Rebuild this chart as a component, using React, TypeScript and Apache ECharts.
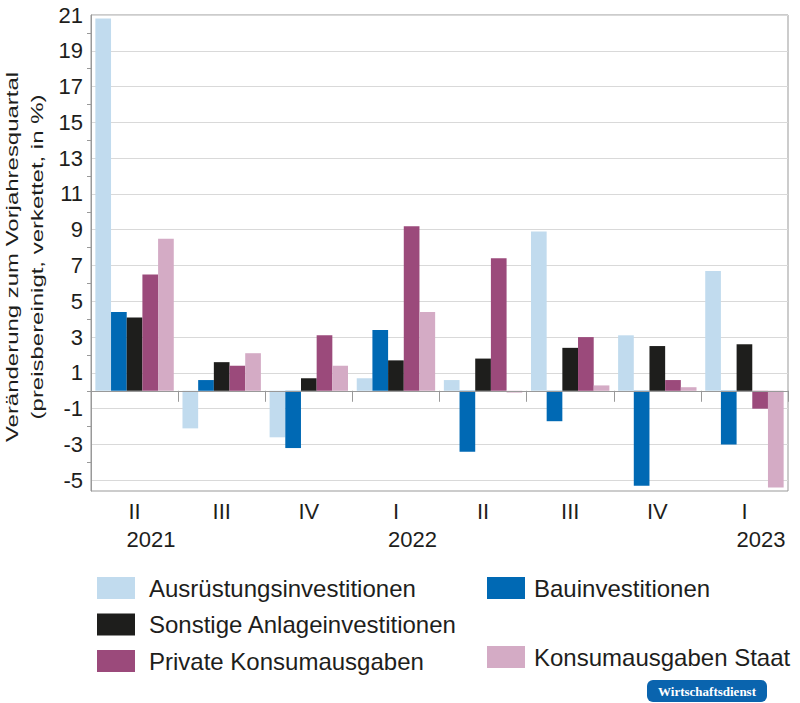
import React, { useEffect, useRef } from "react";
import * as echarts from "echarts";

const categories = ["2021 II", "2021 III", "2021 IV", "2022 I", "2022 II", "2022 III", "2022 IV", "2023 I"];
const quarterLabels = ["II", "III", "IV", "I", "II", "III", "IV", "I"];
const yearLabels = ["2021", "", "", "2022", "", "", "", "2023"];

const seriesNames = [
  "Ausrüstungsinvestitionen",
  "Bauinvestitionen",
  "Sonstige Anlageinvestitionen",
  "Private Konsumausgaben",
  "Konsumausgaben Staat",
];
const seriesColors = ["#c1dbee", "#0069b4", "#1e1e1c", "#9b4a7b", "#d4abc5"];

const ausruestung = [20.8, -2.1, -2.6, 0.7, 0.6, 8.9, 3.1, 6.7];
const bau = [4.4, 0.6, -3.2, 3.4, -3.4, -1.7, -5.3, -3.0];
const sonstige = [4.1, 1.6, 0.7, 1.7, 1.8, 2.4, 2.5, 2.6];
const privat = [6.5, 1.4, 3.1, 9.2, 7.4, 3.0, 0.6, -1.0];
const staat = [8.5, 2.1, 1.4, 4.4, -0.1, 0.3, 0.2, -5.4];

const yTickLabels = [-5, -3, -1, 1, 3, 5, 7, 9, 11, 13, 15, 17, 19, 21];
const yMinorTicks = [-4, -2, 0, 2, 4, 6, 8, 10, 12, 14, 16, 18, 20];

const yTitle = "Veränderung zum Vorjahresquartal\n(preisbereinigt, verkettet, in %)";
const badgeText = "Wirtschaftsdienst";

const FONT = "'Liberation Sans', Arial, Helvetica, sans-serif";
const TEXT = "#1e1e1c";

export default function App() {
  const ref = useRef<HTMLDivElement>(null);

  useEffect(() => {
    if (!ref.current) return;
    const chart = echarts.init(ref.current, null, { renderer: "svg" });
    const values = [ausruestung, bau, sonstige, privat, staat];

    const series: any[] = values.map((data, i) => ({
      name: seriesNames[i],
      type: "bar",
      xAxisIndex: 0,
      yAxisIndex: 0,
      data,
      barGap: "0%",
      barCategoryGap: "10%",
      itemStyle: { color: seriesColors[i] },
      ...(i === values.length - 1
        ? {
            markLine: {
              silent: true,
              symbol: ["none", "none"],
              label: { show: false },
              lineStyle: { color: "#999999", width: 1, type: "solid" },
              data: [{ yAxis: 0 }],
              z: 10,
            },
          }
        : {}),
    }));

    const legendCommon = {
      orient: "vertical",
      itemWidth: 38,
      itemHeight: 22,
      itemGap: 12.5,
      padding: 0,
      icon: "rect",
      selectedMode: false,
      textStyle: { fontSize: 24, color: TEXT, fontFamily: FONT },
    };

    chart.setOption({
      animation: false,
      backgroundColor: "#ffffff",
      textStyle: { fontFamily: FONT },
      grid: {
        left: 91,
        right: 12,
        top: 15,
        bottom: 212,
        show: true,
        borderColor: "#999999",
        borderWidth: 1,
      },
      legend: [
        {
          ...legendCommon,
          left: 97,
          top: 576,
          data: [seriesNames[0], seriesNames[2], seriesNames[3]],
          textStyle: { ...legendCommon.textStyle, padding: [0, 0, 0, 9] },
        },
        {
          ...legendCommon,
          left: 487,
          top: 576,
          data: [seriesNames[1]],
          textStyle: { ...legendCommon.textStyle, padding: [0, 0, 0, 4] },
        },
        {
          ...legendCommon,
          left: 487,
          top: 645,
          data: [seriesNames[4]],
          textStyle: { ...legendCommon.textStyle, padding: [0, 0, 0, 4] },
        },
      ],
      xAxis: [
        {
          type: "category",
          data: categories,
          position: "bottom",
          axisLine: { lineStyle: { color: "#999999", width: 1 } },
          axisTick: { show: true, length: 11, lineStyle: { color: "#999999" } },
          axisLabel: {
            interval: 0,
            margin: 9,
            fontSize: 22,
            color: TEXT,
            fontFamily: FONT,
            formatter: (_v: string, i: number) => quarterLabels[i],
          },
          splitLine: { show: false },
        },
        {
          type: "category",
          data: categories,
          position: "bottom",
          axisLine: { show: false },
          axisTick: { show: false },
          splitLine: { show: false },
          axisLabel: {
            interval: 0,
            margin: 37,
            fontSize: 22,
            color: TEXT,
            fontFamily: FONT,
            formatter: (_v: string, i: number) => (yearLabels[i] ? `{y|${yearLabels[i]}}` : ""),
            rich: {
              y: { fontSize: 22, color: TEXT, fontFamily: FONT, padding: [0, 0, 0, 33] },
            },
          },
        },
      ],
      yAxis: [
        {
          type: "value",
          min: -5.6,
          max: 21,
          position: "left",
          axisLine: { show: true, lineStyle: { color: "#999999", width: 1 } },
          axisTick: { show: false, customValues: yTickLabels },
          axisLabel: {
            customValues: yTickLabels,
            margin: 8,
            fontSize: 22,
            color: TEXT,
            fontFamily: FONT,
          },
          splitLine: { show: true, lineStyle: { color: "#d9d9d9", width: 1 } },
        },
        {
          type: "value",
          min: -5.6,
          max: 21,
          position: "left",
          axisLine: { show: false },
          axisTick: {
            show: true,
            length: 4,
            customValues: yMinorTicks,
            lineStyle: { color: "#999999" },
          },
          axisLabel: { show: false },
          splitLine: { show: false },
        },
      ],
      graphic: [
        {
          type: "text",
          x: 24.5,
          y: 257,
          rotation: Math.PI / 2,
          scaleX: 1.41,
          scaleY: 1,
          style: {
            text: yTitle,
            fontSize: 17,
            lineHeight: 25,
            fill: TEXT,
            fontFamily: FONT,
            align: "center",
            verticalAlign: "middle",
          },
        },
        {
          type: "group",
          left: 647,
          top: 680,
          children: [
            {
              type: "rect",
              shape: { x: 0, y: 0, width: 120, height: 22, r: 6 },
              style: { fill: "#0a64ae" },
            },
            {
              type: "text",
              x: 60,
              y: 11.5,
              style: {
                text: badgeText,
                fontSize: 13,
                fontFamily: "'Liberation Serif', 'DejaVu Serif', serif",
                fontWeight: "bold",
                fill: "#ffffff",
                align: "center",
                verticalAlign: "middle",
              },
            },
          ],
        },
      ],
      series,
    });

    return () => chart.dispose();
  }, []);

  return (
    <div
      ref={ref}
      style={{ position: "fixed", left: 0, top: 0, width: 800, height: 703, background: "#fff" }}
    />
  );
}
